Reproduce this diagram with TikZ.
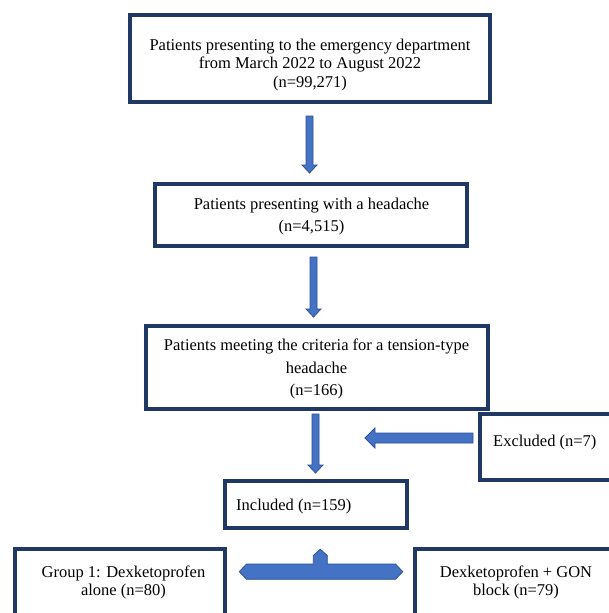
\documentclass[tikz,border=0pt]{standalone}
\usepackage{fontspec}
\setmainfont{Liberation Serif}
\usetikzlibrary{calc}
\definecolor{navy}{HTML}{1F3864}
\definecolor{afill}{HTML}{4472C4}
\definecolor{aline}{HTML}{2F528F}
\newcommand{\downblock}[2]{%
  \filldraw[blockarrow] ($(#1)+(-3.5,0)$) -- ($(#1)+(3.5,0)$) -- ($(#2)+(3.5,-8)$) -- ($(#2)+(7.5,-8)$) -- (#2) -- ($(#2)+(-7.5,-8)$) -- ($(#2)+(-3.5,-8)$) -- cycle;}
\begin{document}
\begin{tikzpicture}[x=1pt,y=-1pt,
  box/.style={draw=navy,line width=4pt,inner sep=0pt,outer sep=0pt,fill=white},
  txt/.style={inner sep=0pt,align=center,font=\fontsize{16.5}{18.5}\selectfont},
  blockarrow/.style={fill=afill,draw=aline,line width=0.8pt,line join=miter}]
\useasboundingbox (0,0) rectangle (609,613);
\clip (0,0) rectangle (609,613);
\fill[white] (0,0) rectangle (609,613);
% boxes
\node[box,minimum width=360pt,minimum height=87pt] (b1) at (310,58.5) {};
\node[box,minimum width=312pt,minimum height=62pt] (b2) at (311,215) {};
\node[box,minimum width=342pt,minimum height=83pt] (b3) at (317,367.5) {};
\node[box,minimum width=140pt,minimum height=66pt] (exc) at (550.3,447) {};
\node[box,minimum width=182pt,minimum height=47pt] (inc) at (316,504.5) {};
\node[box,minimum width=210pt,minimum height=76pt] (g1) at (120,587) {};
\node[box,minimum width=210pt,minimum height=76pt] (g2) at (520,587) {};
% texts
\node[txt] (t1) at (310,65) {Patients presenting to the emergency department\\from March 2022 to August 2022\\(n=99,271)};
\node[txt,font=\fontsize{16.5}{22.3}\selectfont] (t2) at (311.5,216.5) {Patients presenting with a headache\\(n=4,515)};
\node[txt,font=\fontsize{16.5}{22.5}\selectfont] (t3) at (316.5,369) {Patients meeting the criteria for a tension-type\\headache\\(n=166)};
\node[txt,anchor=west] (texc) at (493,443) {Excluded (n=7)};
\node[txt,anchor=west] (tinc) at (236,507) {Included (n=159)};
\node[txt,font=\fontsize{16.5}{18}\selectfont] (tg1) at (123.5,582) {Group 1: Dexketoprofen\\alone (n=80)};
\node[txt,font=\fontsize{16.5}{18}\selectfont] (tg2) at (516,582) {Dexketoprofen + GON\\block (n=79)};
% down block arrows
\coordinate (a1s) at (309.5,116); \coordinate (a1e) at (309.5,173);
\coordinate (a2s) at (313.5,257); \coordinate (a2e) at (313.5,317);
\coordinate (a3s) at (315.5,414); \coordinate (a3e) at (315.5,473);
\downblock{a1s}{a1e}
\downblock{a2s}{a2e}
\downblock{a3s}{a3e}
% left block arrow from excluded
\coordinate (lt) at (365,438);
\filldraw[blockarrow] (lt) -- ($(lt)+(10,-10)$) -- ($(lt)+(10,-5)$) -- ($(lt)+(108,-5)$) -- ($(lt)+(108,5)$) -- ($(lt)+(10,5)$) -- ($(lt)+(10,10)$) -- cycle;
% left-right-up block arrow
\filldraw[blockarrow] (239.3,571.7) -- (246.5,564) -- (313.3,564) -- (313.3,555.5) -- (320.3,549.3) -- (327.3,555.5) -- (327.3,564) -- (395.5,564) -- (402.7,571.7) -- (395.5,579.3) -- (246.5,579.3) -- cycle;
\end{tikzpicture}
\end{document}
